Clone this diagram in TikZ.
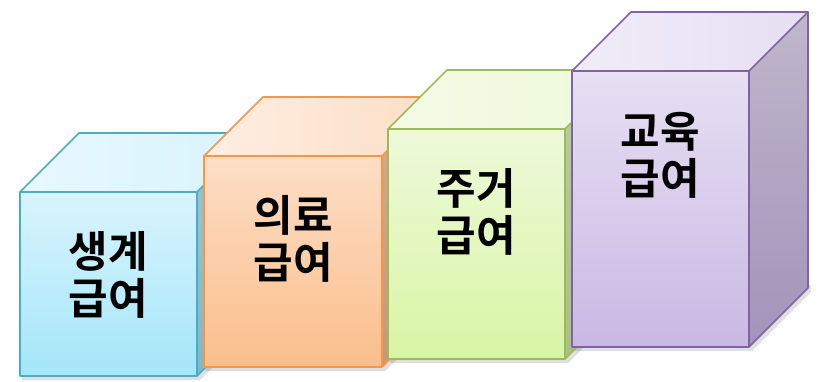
\documentclass[tikz,border=0pt]{standalone}
\usepackage{fontspec}
\newfontfamily\krfont{Noto Sans CJK KR}[BoldFont={* Bold}]
\usepackage{tikz}
\usepackage{xcolor}

% colours of the four boxes
\definecolor{blueline}{HTML}{4BACC6}
\definecolor{bluetop}{HTML}{E8F8FE}
\definecolor{bluefa}{HTML}{D8F4FD}
\definecolor{bluefb}{HTML}{A4E6F9}
\definecolor{blueside}{HTML}{80B8C8}
\definecolor{orangeline}{HTML}{F79646}
\definecolor{orangetop}{HTML}{FEEEE2}
\definecolor{orangefa}{HTML}{FDDEC6}
\definecolor{orangefb}{HTML}{FBBE8C}
\definecolor{orangeside}{HTML}{C9967A}
\definecolor{greenline}{HTML}{9BBB59}
\definecolor{greentop}{HTML}{F4FBE6}
\definecolor{greenfa}{HTML}{EEF9DA}
\definecolor{greenfb}{HTML}{D8F5A4}
\definecolor{greenside}{HTML}{A9C088}
\definecolor{purpleline}{HTML}{8064A2}
\definecolor{purpletop}{HTML}{F0ECF8}
\definecolor{purplefa}{HTML}{E7DFF3}
\definecolor{purplefb}{HTML}{C9B8E4}
\definecolor{purplesa}{HTML}{BFB7CB}
\definecolor{purplesb}{HTML}{A393BA}

\tikzset{
  face/.style={line width=1.6pt, line join=round},
  boxshadow/.style={fill=black, opacity=0.12},
  boxlabel/.style={font=\krfont\bfseries\fontsize{43}{47}\selectfont,
    align=center, inner sep=0pt, anchor=north}
}

\begin{document}
\begin{tikzpicture}[x=1pt,y=1pt]
        \useasboundingbox (0,0) rectangle (818,382);

        % shadows under the boxes
        \fill[boxshadow] (22,2) -- (200,2) -- (259,61) -- (259,68) -- (22,68) -- cycle;
        \fill[boxshadow] (206,11) -- (385,11) -- (444,70) -- (444,77) -- (206,77) -- cycle;
        \fill[boxshadow] (390,19) -- (568,19) -- (627,78) -- (627,85) -- (390,85) -- cycle;
        \fill[boxshadow] (574,31) -- (752,31) -- (811,90) -- (811,97) -- (574,97) -- cycle;

        % box 1: living allowance
        \shade[top color=blueside!80!white,bottom color=blueside] (197,6) -- (256,65) -- (256,249) -- (197,190) -- cycle;
        \shade[left color=bluetop,right color=bluefa] (20,190) -- (79,249) -- (256,249) -- (197,190) -- cycle;
        \shade[top color=bluefa,bottom color=bluefb] (20,6) rectangle (197,190);
        \draw[face,blueline] (20,6) rectangle (197,190);
        \draw[face,blueline] (20,190) -- (79,249) -- (256,249) -- (197,190)
          (256,249) -- (256,65) -- (197,6);
        \node[boxlabel] (living) at (108.5,151) {생계\\급여};

        % box 2: medical allowance
        \shade[top color=orangeside!80!white,bottom color=orangeside] (382,15) -- (441,74) -- (441,285) -- (382,226) -- cycle;
        \shade[left color=orangetop,right color=orangefa] (204,226) -- (263,285) -- (441,285) -- (382,226) -- cycle;
        \shade[top color=orangefa,bottom color=orangefb] (204,15) rectangle (382,226);
        \draw[face,orangeline] (204,15) rectangle (382,226);
        \draw[face,orangeline] (204,226) -- (263,285) -- (441,285) -- (382,226)
          (441,285) -- (441,74) -- (382,15);
        \node[boxlabel] (medical) at (293,187) {의료\\급여};

        % box 3: housing allowance
        \shade[top color=greenside!80!white,bottom color=greenside] (565,23) -- (624,82) -- (624,312) -- (565,253) -- cycle;
        \shade[left color=greentop,right color=greenfa] (388,253) -- (447,312) -- (624,312) -- (565,253) -- cycle;
        \shade[top color=greenfa,bottom color=greenfb] (388,23) rectangle (565,253);
        \draw[face,greenline] (388,23) rectangle (565,253);
        \draw[face,greenline] (388,253) -- (447,312) -- (624,312) -- (565,253)
          (624,312) -- (624,82) -- (565,23);
        \node[boxlabel] (housing) at (476.5,214) {주거\\급여};

        % box 4: education allowance
        \shade[top color=purplesa,bottom color=purplesb] (749,35) -- (808,94) -- (808,370) -- (749,311) -- cycle;
        \shade[left color=purpletop,right color=purplefa] (572,311) -- (631,370) -- (808,370) -- (749,311) -- cycle;
        \shade[top color=purplefa,bottom color=purplefb] (572,35) rectangle (749,311);
        \draw[face,purpleline] (572,35) rectangle (749,311);
        \draw[face,purpleline] (572,311) -- (631,370) -- (808,370) -- (749,311)
          (808,370) -- (808,94) -- (749,35);
        \node[boxlabel] (education) at (660.5,270) {교육\\급여};
    \end{tikzpicture}
\end{document}
